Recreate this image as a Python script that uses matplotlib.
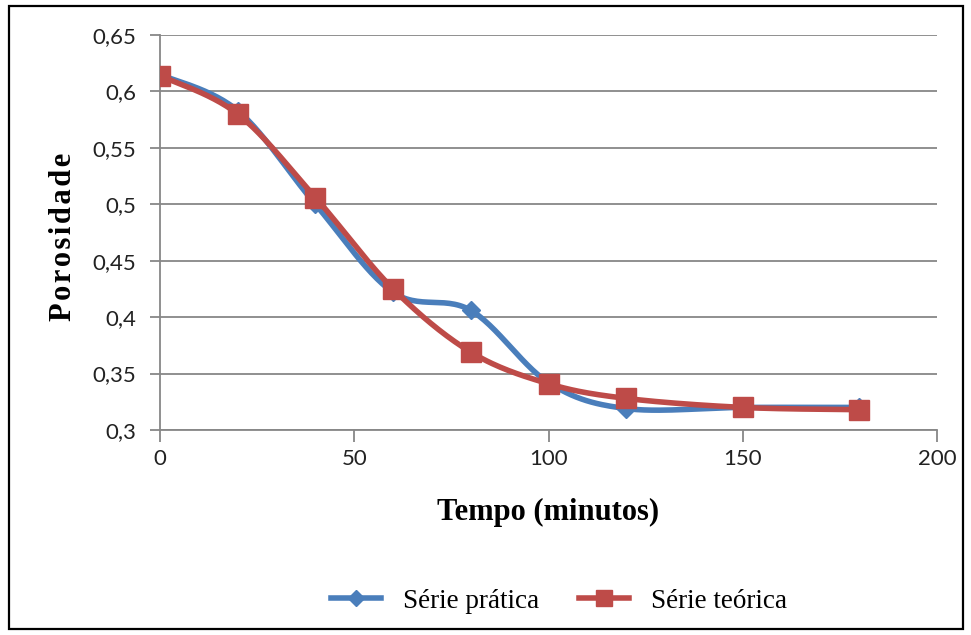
import numpy as np
import matplotlib
matplotlib.use("Agg")
import matplotlib.pyplot as plt
from matplotlib.lines import Line2D
from matplotlib.ticker import FuncFormatter

tempo = [0, 20, 40, 60, 80, 100, 120, 150, 180]
serie_pratica = [0.615, 0.583, 0.500, 0.422, 0.406, 0.342, 0.319, 0.320, 0.320]
serie_teorica = [0.614, 0.580, 0.506, 0.425, 0.369, 0.341, 0.328, 0.320, 0.318]
labels = ["Série prática", "Série teórica"]
x_ticks = [0, 50, 100, 150, 200]
blue = "#4a7ebb"
red = "#be4b48"
gray = "#878787"

W, H = 971, 635


def smooth(x, y, n=30, t=0.5):
    x = np.asarray(x, float); y = np.asarray(y, float)
    px = np.concatenate([[x[0]], x, [x[-1]]])
    py = np.concatenate([[y[0]], y, [y[-1]]])
    xs, ys = [], []
    s = np.linspace(0, 1, n)
    for i in range(1, len(px) - 2):
        p0 = np.array([px[i], py[i]]); p1 = np.array([px[i + 1], py[i + 1]])
        m0 = t * (np.array([px[i + 1], py[i + 1]]) - np.array([px[i - 1], py[i - 1]]))
        m1 = t * (np.array([px[i + 2], py[i + 2]]) - np.array([px[i], py[i]]))
        h00 = 2 * s**3 - 3 * s**2 + 1
        h10 = s**3 - 2 * s**2 + s
        h01 = -2 * s**3 + 3 * s**2
        h11 = s**3 - s**2
        pts = np.outer(h00, p0) + np.outer(h10, m0) + np.outer(h01, p1) + np.outer(h11, m1)
        xs.extend(pts[:, 0]); ys.extend(pts[:, 1])
    return np.array(xs), np.array(ys)


fig = plt.figure(figsize=(W / 100, H / 100), dpi=100)
fig.patches.append(plt.Rectangle((9 / W, 1 - 629 / H), (963 - 9) / W, (629 - 6) / H,
                                 transform=fig.transFigure, fill=False,
                                 edgecolor="black", linewidth=1.6))
ax = fig.add_axes([160 / W, 1 - 430 / H, (937 - 160) / W, (430 - 35) / H])

for y, c, m, ms in [(serie_pratica, blue, "D", 9.5), (serie_teorica, red, "s", 14)]:
    sx, sy = smooth(tempo, y)
    ax.plot(sx, sy, color=c, linewidth=4, solid_capstyle="round", zorder=3)
    ax.plot(tempo, y, linestyle="none", marker=m, markersize=ms, color=c, zorder=4)

ax.set_xlim(0, 200)
ax.set_ylim(0.3, 0.65)
ax.set_xticks(x_ticks)
ax.set_yticks(np.arange(0.3, 0.651, 0.05))
ax.yaxis.set_major_formatter(FuncFormatter(lambda v, p: ("%g" % round(v, 2)).replace(".", ",")))
ax.grid(axis="y", color=gray, linewidth=1.3)
ax.set_axisbelow(True)
for s in ["top", "right"]:
    ax.spines[s].set_visible(False)
for s in ["left", "bottom"]:
    ax.spines[s].set_color(gray)
    ax.spines[s].set_linewidth(1.3)
ax.tick_params(axis="both", colors=gray, labelcolor="#222222", labelsize=16, width=1.3)
ax.tick_params(axis="x", length=8.5, pad=5)
ax.tick_params(axis="y", length=7, pad=10)
for lab in ax.get_xticklabels() + ax.get_yticklabels():
    lab.set_family(["Lato", "DejaVu Sans"])

fig.text(548 / W, 1 - 520 / H, "Tempo (minutos)", family=["Liberation Serif", "DejaVu Serif"],
         fontweight="bold", fontsize=22, ha="center", va="baseline")
ylab = "\u200a".join("Porosidade")
fig.text(63 / W, 1 - 237 / H, ylab, family=["Liberation Serif", "DejaVu Serif"],
         fontweight="bold", fontsize=22, ha="center", va="center", rotation=90)

handles = [Line2D([], [], color=blue, marker="D", markersize=8, linewidth=4),
           Line2D([], [], color=red, marker="s", markersize=11, linewidth=4)]
fig.legend(handles, labels, loc="center", bbox_to_anchor=(559 / W, 1 - 601 / H), ncol=2,
           frameon=False, prop={"family": ["Liberation Serif", "DejaVu Serif"], "size": 19.5},
           handlelength=1.85, columnspacing=1.5, handletextpad=0.8, borderpad=0.2)

fig.savefig("out.png", dpi=100)
